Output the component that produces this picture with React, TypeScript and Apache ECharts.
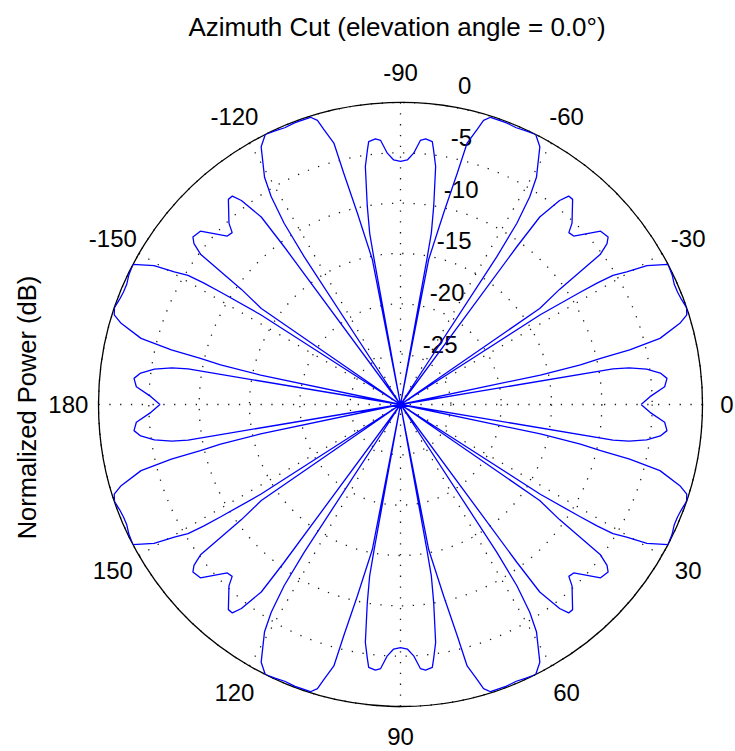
import React, { useEffect, useRef } from "react";
import * as echarts from "echarts";

// Azimuth cut, one quarter (0..90 deg); the cut is mirror-symmetric
// about the 0-180 and 90-270 lines. Values below -30 dB sit at the plot centre.
const QUARTER_ANGLE_DEG = [
  0, 1.8, 3.85, 5.6, 6.9, 8.2, 9.1, 9.5, 9.55,
  11.8, 11.9, 12.4, 13.0, 13.4, 14.3, 16.2, 17.4, 18.7, 20.5, 22.1, 23.7, 25.5, 27.65,
  29.4, 30.4, 31.3, 31.7, 32.0, 32.7, 32.8,
  34.5, 34.6, 35.9, 36.9, 37.9, 38.9, 40.9, 44.2, 45.6, 46.6, 50.0, 51.1, 52.05, 53.4, 53.6, 53.8,
  56.8, 56.9, 57.3, 58.1, 59.1, 61.6, 63.4, 65.5, 67.3, 69.5, 72.6, 73.7, 74.4, 75.7, 76.2, 77.3, 79.0, 79.4,
  79.6, 79.7, 79.8, 80.5, 81.6, 82.6, 83.1, 84.6, 85.7, 87.0, 88.4, 90.0,
];
const QUARTER_POWER_DB = [
  -6.1, -5.2, -3.7, -3.4, -4.0, -5.3, -7.0, -8.6, -30,
  -30, -15.8, -11.7, -9.6, -6.6, -3.4, -1.1, -0.2, 0, -0.2, -0.3, -0.3, -0.1, 0,
  -1.9, -3.95, -5.3, -7.0, -9.0, -13.5, -30,
  -30, -13.2, -10.5, -5.2, -4.0, -3.5, -3.7, -6.0, -6.1, -5.2, -3.4, -3.4, -4.3, -6.8, -10.5, -30,
  -30, -12.5, -8.6, -5.7, -3.7, -0.9, 0, -0.1, -0.2, -0.1, -0.1, -0.6, -1.6, -3.2, -6.3, -10.5, -15.3, -30,
  -30, -15.4, -12.7, -10.0, -6.1, -4.5, -3.7, -3.5, -3.7, -5.0, -5.7, -5.85,
];

const ANGLE_TICKS = [0, 30, 60, 90, 120, 150, 180, 210, 240, 270, 300, 330];
const RADIAL_TICKS = [0, -5, -10, -15, -20, -25];
const R_MIN = -30;
const R_MAX = 0;
const TITLE = "Azimuth Cut (elevation angle = 0.0\u00b0)";
const Y_LABEL = "Normalized Power (dB)";

// layout
const W = 735;
const H = 751;
const CX = 400.5;
const CY = 404.5;
const R = 302;
const FONT = "'Liberation Sans', Arial, Helvetica, sans-serif";

function buildFullCut(): [number, number][] {
  const pts: [number, number][] = [];
  const n = QUARTER_ANGLE_DEG.length;
  const push = (a: number, v: number) => pts.push([Math.max(v, R_MIN), a]);
  for (let i = 0; i < n; i++) push(QUARTER_ANGLE_DEG[i], QUARTER_POWER_DB[i]);
  for (let i = n - 2; i >= 0; i--) push(180 - QUARTER_ANGLE_DEG[i], QUARTER_POWER_DB[i]);
  for (let i = 1; i < n; i++) push(180 + QUARTER_ANGLE_DEG[i], QUARTER_POWER_DB[i]);
  for (let i = n - 2; i >= 0; i--) push(360 - QUARTER_ANGLE_DEG[i], QUARTER_POWER_DB[i]);
  return pts;
}

function angleLabel(t: number): string {
  return String(t <= 180 ? t : t - 360);
}

export default function App() {
  const ref = useRef<HTMLDivElement>(null);

  useEffect(() => {
    if (!ref.current) return;
    const chart = echarts.init(ref.current, null, { renderer: "svg" });
    const dotted = { color: "#1a1a1a", width: 1.3, type: [1.3, 9.5] as any };

    const graphics: any[] = [];
    graphics.push({
      type: "text",
      x: 397,
      y: 27,
      style: {
        text: TITLE,
        fill: "#000",
        fontSize: 26,
        fontFamily: FONT,
        align: "center",
        verticalAlign: "middle",
      },
    });
    graphics.push({
      type: "text",
      x: 27,
      y: 407.5,
      rotation: Math.PI / 2,
      style: {
        text: Y_LABEL,
        fill: "#000",
        fontSize: 25.5,
        fontFamily: FONT,
        align: "center",
        verticalAlign: "middle",
      },
    });
    const lr = 1.1 * R;
    ANGLE_TICKS.forEach((t) => {
      const a = (t * Math.PI) / 180;
      // keep the label inside the page (the right-hand "0" sits at the edge)
      const x = Math.min(CX + lr * Math.cos(a), W - 8);
      graphics.push({
        type: "text",
        x,
        y: CY + lr * Math.sin(a),
        style: {
          text: angleLabel(t),
          fill: "#000",
          fontSize: 24,
          fontFamily: FONT,
          align: "center",
          verticalAlign: "middle",
        },
      });
    });
    const c82 = Math.cos((82 * Math.PI) / 180);
    RADIAL_TICKS.forEach((v) => {
      const rp = ((v - R_MIN) / (R_MAX - R_MIN)) * R;
      graphics.push({
        type: "text",
        x: CX + 15 + (rp + 2.5) * c82,
        y: CY - rp - 8 - 0.03 * rp,
        style: {
          text: String(v),
          fill: "#000",
          fontSize: 24,
          fontFamily: FONT,
          align: "left",
          verticalAlign: "middle",
        },
      });
    });

    chart.setOption({
      animation: false,
      polar: { center: [CX, CY], radius: R },
      angleAxis: {
        type: "value",
        min: 0,
        max: 360,
        interval: 30,
        startAngle: 0,
        clockwise: true,
        axisLine: { show: true, lineStyle: { color: "#000", width: 1.3 } },
        axisTick: { show: false },
        axisLabel: { show: false },
        splitLine: { show: true, lineStyle: dotted },
      },
      radiusAxis: {
        type: "value",
        min: R_MIN,
        max: R_MAX,
        interval: 5,
        axisLine: { show: false },
        axisTick: { show: false },
        axisLabel: { show: false },
        splitLine: { show: true, lineStyle: dotted },
      },
      series: [
        {
          type: "line",
          coordinateSystem: "polar",
          data: buildFullCut(),
          symbol: "none",
          showSymbol: false,
          lineStyle: { color: "#0000ff", width: 1.3 },
          silent: true,
        },
      ],
      graphic: graphics,
    });

    return () => chart.dispose();
  }, []);

  return (
    <div
      ref={ref}
      style={{ position: "fixed", left: 0, top: 0, width: W, height: H, background: "#fff" }}
    />
  );
}
